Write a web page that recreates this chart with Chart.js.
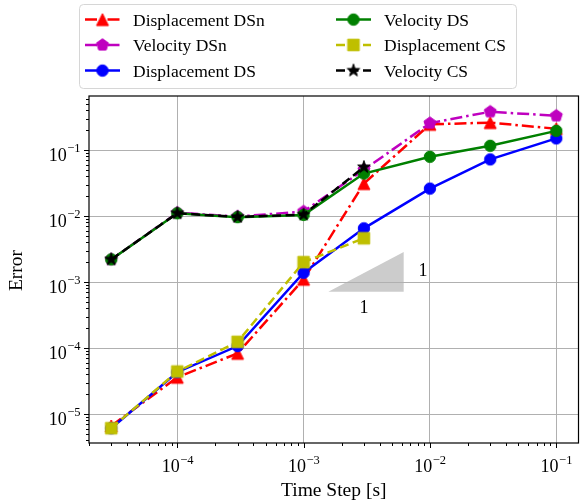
<!DOCTYPE html>
<html><head><meta charset="utf-8">
<script src="https://cdn.jsdelivr.net/npm/chart.js@4.4.0/dist/chart.umd.min.js"></script>
<style>html,body{margin:0;padding:0;background:#fff;} canvas{display:block;}</style>
</head><body>
<canvas id="c" width="587" height="504" style="width:587px;height:504px"></canvas>
<script>
// ---------- data ----------
const timeSteps = [3e-5, 1e-4, 3e-4, 1e-3, 3e-3, 1e-2, 3e-2, 1e-1];
const dispDSn = [6.6e-6, 3.6e-5, 8.3e-5, 1.1e-3, 3.1e-2, 0.245, 0.26, 0.21];
const velDSn  = [2.2e-3, 1.12e-2, 9.8e-3, 1.17e-2, 5.0e-2, 0.255, 0.38, 0.33];
const dispDS  = [6.1e-6, 4.3e-5, 1.07e-4, 1.38e-3, 6.5e-3, 2.6e-2, 7.2e-2, 0.15];
const velDS   = [2.2e-3, 1.1e-2, 9.6e-3, 1.04e-2, 4.4e-2, 7.9e-2, 0.116, 0.195];
const dispCS  = [6.1e-6, 4.4e-5, 1.24e-4, 2.0e-3, 4.6e-3];
const velCS   = [2.2e-3, 1.1e-2, 9.7e-3, 1.05e-2, 5.5e-2];

const seriesLabels = ['Displacement DSn', 'Velocity DSn', 'Displacement DS', 'Velocity DS', 'Displacement CS', 'Velocity CS'];

const xTickValues = [1e-4, 1e-3, 1e-2, 1e-1];
const xTickExponents = ['\u22124', '\u22123', '\u22122', '\u22121'];
const yTickValues = [1e-5, 1e-4, 1e-3, 1e-2, 1e-1];
const yTickExponents = ['\u22125', '\u22124', '\u22123', '\u22122', '\u22121'];
const xTitle = 'Time Step [s]';
const yTitle = 'Error';

const slopeTriX = [1.57e-3, 6.2e-3, 6.2e-3];
const slopeTriY = [7.1e-4, 7.1e-4, 2.85e-3];
const slopeLabelX = [8.8e-3, 3.0e-3];
const slopeLabelY = [1.47e-3, 4.0e-4];
const slopeLabelText = ['1', '1'];

// ---------- styling ----------
const SERIF = '"Liberation Serif", "DejaVu Serif", serif';

function makeMarker(shape, color) {
  const c = document.createElement('canvas');
  c.width = 18; c.height = 18;
  const g = c.getContext('2d');
  g.translate(9, 9);
  g.fillStyle = color; g.strokeStyle = color; g.lineWidth = 1; g.lineJoin = 'miter';
  g.beginPath();
  if (shape === 'circle') {
    g.arc(0, 0, 5.7, 0, Math.PI * 2);
  } else if (shape === 'triangle') {
    g.moveTo(0, -6); g.lineTo(6, 6); g.lineTo(-6, 6); g.closePath();
  } else if (shape === 'square') {
    g.rect(-5.8, -5.8, 11.6, 11.6);
  } else if (shape === 'pentagon') {
    for (let k = 0; k < 5; k++) {
      const a = -Math.PI / 2 + k * 2 * Math.PI / 5;
      const px = 6.3 * Math.cos(a), py = 6.3 * Math.sin(a);
      k ? g.lineTo(px, py) : g.moveTo(px, py);
    }
    g.closePath();
  } else if (shape === 'star') {
    for (let k = 0; k < 10; k++) {
      const a = -Math.PI / 2 + k * Math.PI / 5;
      const r = (k % 2 === 0) ? 6.6 : 2.6;
      const px = r * Math.cos(a), py = r * Math.sin(a);
      k ? g.lineTo(px, py) : g.moveTo(px, py);
    }
    g.closePath();
  }
  g.fill(); g.stroke();
  return c;
}

const DASHDOT = [12, 4, 2.5, 4];
const DASHED = [9, 4.5];
const styles = [
  { color: '#ff0000', shape: 'triangle', dash: DASHDOT },
  { color: '#bf00bf', shape: 'pentagon', dash: DASHDOT },
  { color: '#0000ff', shape: 'circle',   dash: [] },
  { color: '#008000', shape: 'circle',   dash: [] },
  { color: '#bfbf00', shape: 'square',   dash: DASHED },
  { color: '#000000', shape: 'star',     dash: DASHED },
];
const allSeries = [dispDSn, velDSn, dispDS, velDS, dispCS, velCS];

const datasets = allSeries.map((arr, i) => {
  const st = styles[i];
  const img = makeMarker(st.shape, st.color);
  return {
    label: seriesLabels[i],
    data: arr.map((v, j) => ({ x: timeSteps[j], y: v })),
    borderColor: st.color,
    backgroundColor: st.color,
    borderWidth: 2.5,
    borderDash: st.dash,
    pointStyle: img,
    pointRadius: 6,
    pointHoverRadius: 6,
    tension: 0,
    fill: false,
    order: allSeries.length - i,
    _marker: img,
  };
});

function buildLogTicks(scale) {
  const ticks = [];
  const lo = Math.floor(Math.log10(scale.min)) - 1;
  const hi = Math.ceil(Math.log10(scale.max)) + 1;
  for (let e = lo; e <= hi; e++) {
    for (let m = 1; m <= 9; m++) {
      const v = m * Math.pow(10, e);
      if (v >= scale.min * 0.9999 && v <= scale.max * 1.0001) ticks.push({ value: v, major: m === 1 });
    }
  }
  scale.ticks = ticks;
}

const gridColor = (ctx) => (ctx.tick && ctx.tick.major) ? '#b0b0b0' : 'rgba(0,0,0,0)';

const decorPlugin = {
  id: 'decor',
  beforeDraw(chart) {
    const { ctx, scales: { x, y } } = chart;
    ctx.save();
    ctx.fillStyle = '#cccccc';
    ctx.beginPath();
    slopeTriX.forEach((v, i) => {
      const px = x.getPixelForValue(v), py = y.getPixelForValue(slopeTriY[i]);
      i ? ctx.lineTo(px, py) : ctx.moveTo(px, py);
    });
    ctx.closePath();
    ctx.fill();
    ctx.restore();
  },
  afterDraw(chart) {
    const { ctx, chartArea: a, scales: { x, y } } = chart;
    ctx.save();
    // slope labels
    ctx.fillStyle = '#000';
    ctx.font = '18px ' + SERIF;
    ctx.textAlign = 'center';
    ctx.textBaseline = 'middle';
    slopeLabelText.forEach((t, i) => {
      ctx.fillText(t, x.getPixelForValue(slopeLabelX[i]), y.getPixelForValue(slopeLabelY[i]));
    });
    // tick marks
    ctx.strokeStyle = '#000';
    ctx.lineWidth = 1;
    x.ticks.forEach(t => {
      const px = Math.round(x.getPixelForValue(t.value)) + 0.5;
      const len = t.major ? 5 : 3;
      ctx.beginPath(); ctx.moveTo(px, a.bottom); ctx.lineTo(px, a.bottom + len); ctx.stroke();
    });
    y.ticks.forEach(t => {
      const py = Math.round(y.getPixelForValue(t.value)) + 0.5;
      const len = t.major ? 5 : 3;
      ctx.beginPath(); ctx.moveTo(a.left, py); ctx.lineTo(a.left - len, py); ctx.stroke();
    });
    // frame
    ctx.lineWidth = 1.2;
    ctx.strokeRect(a.left, a.top, a.right - a.left, a.bottom - a.top);
    // tick labels
    ctx.textBaseline = 'alphabetic';
    const baseFont = '18px ' + SERIF, expFont = '12.5px ' + SERIF;
    function drawPow(cx, baseline, exp, align) {
      ctx.font = baseFont; const wb = ctx.measureText('10').width;
      ctx.font = expFont; const we = ctx.measureText(exp).width;
      const total = wb + we;
      let left = align === 'center' ? cx - total / 2 : cx - total;
      ctx.textAlign = 'left';
      ctx.font = baseFont; ctx.fillText('10', left, baseline);
      ctx.font = expFont; ctx.fillText(exp, left + wb + 0.5, baseline - 8.5);
    }
    xTickValues.forEach((v, i) => drawPow(x.getPixelForValue(v), a.bottom + 29, xTickExponents[i], 'center'));
    yTickValues.forEach((v, i) => drawPow(a.left - 9, y.getPixelForValue(v) + 10.5, yTickExponents[i], 'right'));
    // axis titles
    ctx.font = '19.5px ' + SERIF;
    ctx.textAlign = 'center';
    ctx.fillText(xTitle, (a.left + a.right) / 2, 496);
    ctx.save();
    ctx.translate(22, (a.top + a.bottom) / 2 + 1);
    ctx.rotate(-Math.PI / 2);
    ctx.fillText(yTitle, 0, 0);
    ctx.restore();
    // legend
    const L = { left: 79.5, top: 4.5, right: 516.5, bottom: 88.5, r: 4 };
    ctx.beginPath();
    ctx.moveTo(L.left + L.r, L.top);
    ctx.arcTo(L.right, L.top, L.right, L.bottom, L.r);
    ctx.arcTo(L.right, L.bottom, L.left, L.bottom, L.r);
    ctx.arcTo(L.left, L.bottom, L.left, L.top, L.r);
    ctx.arcTo(L.left, L.top, L.right, L.top, L.r);
    ctx.closePath();
    ctx.fillStyle = 'rgba(255,255,255,0.8)';
    ctx.fill();
    ctx.strokeStyle = '#d6d6d6';
    ctx.lineWidth = 1;
    ctx.stroke();
    const colX = [85, 336];
    const rowY = [19.6, 45, 70.6];
    ctx.font = '17.5px ' + SERIF;
    ctx.textAlign = 'left';
    chart.data.datasets.forEach((ds, i) => {
      const col = Math.floor(i / 3), row = i % 3;
      const x0 = colX[col], yc = rowY[row];
      ctx.save();
      ctx.strokeStyle = ds.borderColor;
      ctx.lineWidth = ds.borderWidth;
      ctx.setLineDash(ds.borderDash);
      ctx.beginPath(); ctx.moveTo(x0, yc); ctx.lineTo(x0 + 35, yc); ctx.stroke();
      ctx.restore();
      const m = ds._marker;
      ctx.drawImage(m, x0 + 17.5 - m.width / 2, yc - m.height / 2);
      ctx.fillStyle = '#000';
      ctx.fillText(ds.label, x0 + 48, yc + 6.3);
    });
    ctx.restore();
  }
};

new Chart(document.getElementById('c'), {
  type: 'line',
  data: { datasets },
  options: {
    responsive: false,
    animation: false,
    devicePixelRatio: 1,
    layout: { padding: { top: 96, right: 5, left: 0, bottom: 0 } },
    plugins: { legend: { display: false }, tooltip: { enabled: false } },
    scales: {
      x: {
        type: 'logarithmic',
        min: 2.0e-5, max: 0.15,
        afterBuildTicks: buildLogTicks,
        afterFit(s) { s.height = 61; },
        grid: { color: gridColor, lineWidth: 1, drawTicks: false },
        border: { display: false },
        ticks: { display: false, autoSkip: false },
      },
      y: {
        type: 'logarithmic',
        min: 3.64e-6, max: 0.658,
        afterBuildTicks: buildLogTicks,
        afterFit(s) { s.width = 89; },
        grid: { color: gridColor, lineWidth: 1, drawTicks: false },
        border: { display: false },
        ticks: { display: false, autoSkip: false },
      }
    }
  },
  plugins: [decorPlugin]
});
</script>
</body></html>
